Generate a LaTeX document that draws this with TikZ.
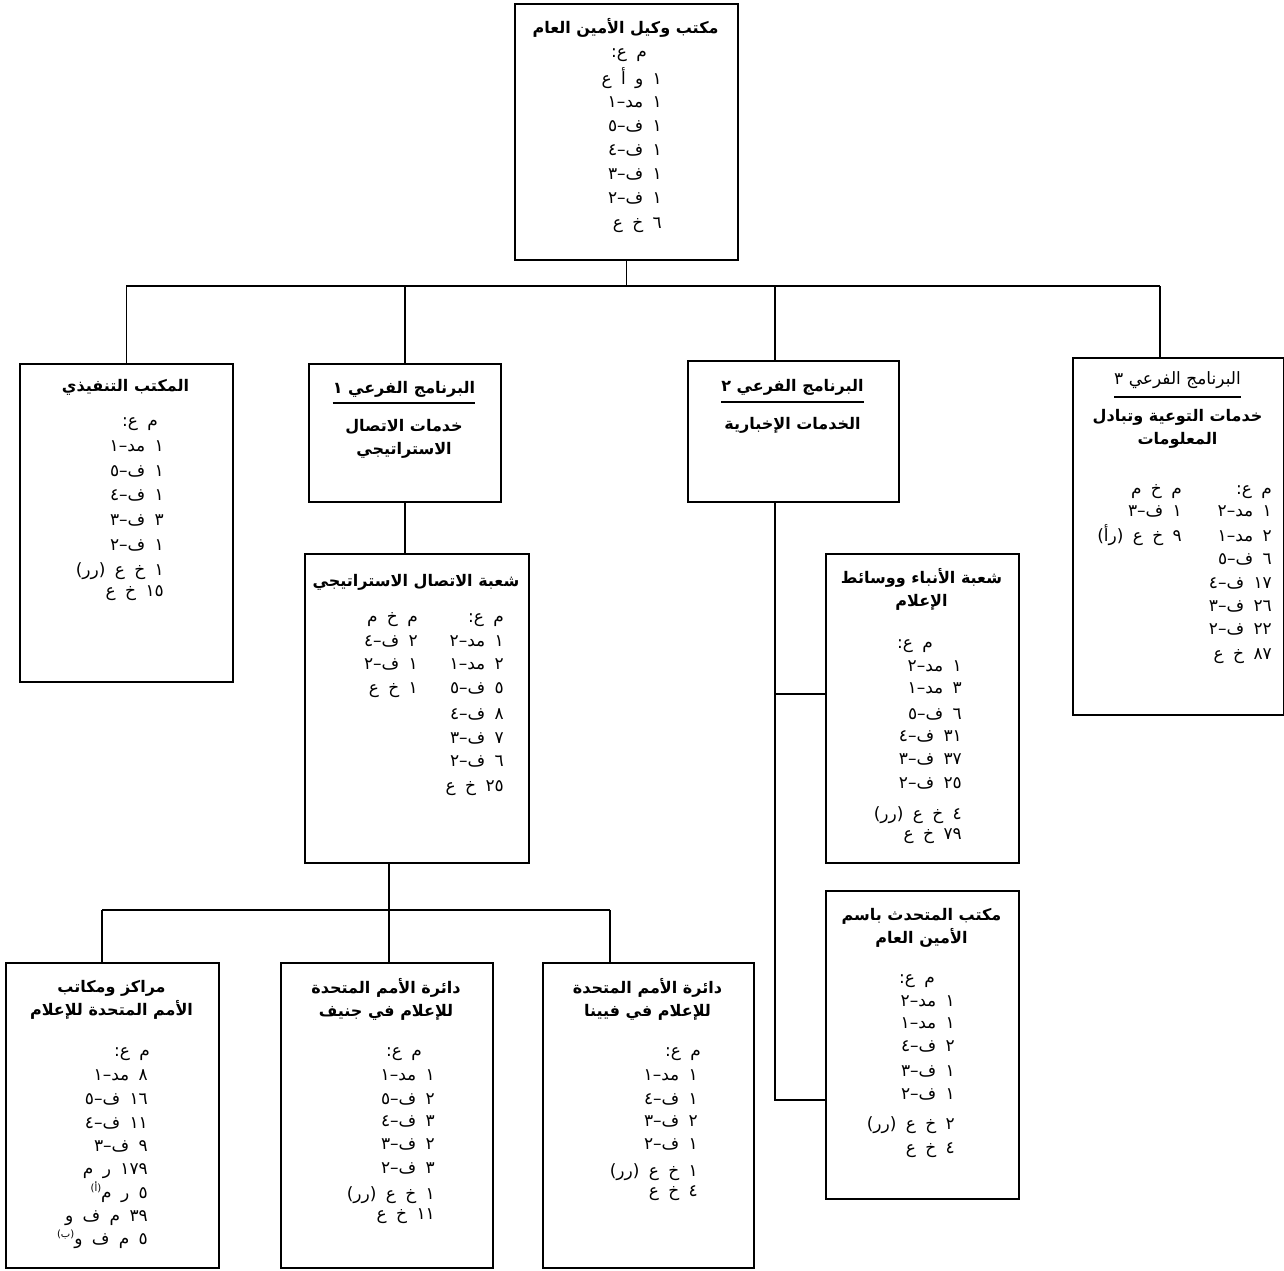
\documentclass[tikz,border=0pt]{standalone}
\usepackage{fontspec}
\newfontfamily\arabicfont[Script=Arabic]{DejaVu Sans}
\TeXXeTstate=1
\newcommand\rl[1]{\beginR #1\endR}
\newcommand\rlb[1]{\spaceskip=0.55em\relax\beginR #1\endR}
\newcommand\supr[1]{\raisebox{7pt}{\fontsize{10}{10}\selectfont #1}}
\newcommand\mkbox[5]{\node[bx, minimum width={(#4-#2)*1pt}, minimum height={(#5-#3)*1pt}] (#1) at (#2,#3) {};}
\newcommand\rlines[3]{\foreach \yy/\lnt [count=\i] in {#3} {\node[bd, anchor=base east] (#1-\i) at (#2,\yy+6) {\rlb{\lnt}};}}
\begin{document}
\begin{tikzpicture}[x=1pt,y=-1pt,
  ln/.style={line width=1.8pt},
  bx/.style={draw, line width=1.8pt, rectangle, inner sep=0pt, anchor=north west},
  ttl/.style={font=\arabicfont\bfseries\fontsize{16}{23}\selectfont, align=center, inner sep=0pt},
  ttlr/.style={font=\arabicfont\fontsize{17}{23}\selectfont, align=center, inner sep=0pt},
  bd/.style={font=\arabicfont\fontsize{17}{20}\selectfont, inner sep=0pt},
  hd/.style={bd, anchor=base}]
\useasboundingbox[fill=white] (0,0) rectangle (1284,1270);

% ---------- boxes ----------
\mkbox{b0}{514}{3}{737}{259}
\mkbox{b1}{19}{363}{232}{681}
\mkbox{b2}{308}{363}{500}{501}
\mkbox{b3}{687}{360}{898}{501}
\mkbox{b4}{1072}{357}{1283}{714}
\mkbox{b5}{304}{553}{528}{862}
\mkbox{b6}{825}{553}{1018}{862}
\mkbox{b7}{825}{890}{1018}{1198}
\mkbox{b8}{5}{962}{218}{1267}
\mkbox{b9}{280}{962}{492}{1267}
\mkbox{b10}{542}{962}{753}{1267}

% ---------- top box ----------
\node[ttl] (t0) at (625.5,28) {\rl{مكتب وكيل الأمين العام}};
\node[hd] (h0) at (629,57) {\rlb{م ع:}};
\rlines{l0}{662}{78/١ و أ ع, 101/١ مد–١, 125/١ ف–٥, 149/١ ف–٤, 173/١ ف–٣, 197/١ ف–٢, 222/٦ خ ع}

% ---------- executive office ----------
\node[ttl] (t1) at (125.5,387) {\rl{المكتب التنفيذي}};
\node[hd] (h1) at (140,426) {\rlb{م ع:}};
\rlines{l1}{164}{445/١ مد–١, 470/١ ف–٥, 494/١ ف–٤, 519/٣ ف–٣, 544/١ ف–٢, 569/١ خ ع (رر), 590/١٥ خ ع}

% ---------- subprogramme 1 ----------
\node[ttl] (t2) at (404,389) {\rl{البرنامج الفرعي ١}};
\draw[ln] (t2.west |- 0,403) -- (t2.east |- 0,403);
\node[ttl] (s2) at (404,438.5) {\rl{خدمات الاتصال}\\\rl{الاستراتيجي}};

% ---------- subprogramme 2 ----------
\node[ttl] (t3) at (792.5,387) {\rl{البرنامج الفرعي ٢}};
\draw[ln] (t3.west |- 0,402) -- (t3.east |- 0,402);
\node[ttl] (s3) at (792.5,425) {\rl{الخدمات الإخبارية}};

% ---------- subprogramme 3 ----------
\node[ttlr] (t4) at (1177.5,380) {\rl{البرنامج الفرعي ٣}};
\draw[ln] (t4.west |- 0,397) -- (t4.east |- 0,397);
\node[ttl] (s4) at (1177.5,429) {\rl{خدمات التوعية وتبادل}\\\rl{المعلومات}};
\rlines{r4}{1272}{488/م ع:, 510/١ مد–٢, 535/٢ مد–١, 558/٦ ف–٥, 582/١٧ ف–٤, 605/٢٦ ف–٣, 628/٢٢ ف–٢, 653/٨٧ خ ع}
\rlines{q4}{1182}{488/م خ م, 510/١ ف–٣, 535/٩ خ ع (رأ)}

% ---------- strategic communications division ----------
\node[ttl] (t5) at (416,582) {\rl{شعبة الاتصال الاستراتيجي}};
\rlines{r5}{504}{616/م ع:, 640/١ مد–٢, 663/٢ مد–١, 687/٥ ف–٥, 713/٨ ف–٤, 737/٧ ف–٣, 760/٦ ف–٢, 785/٢٥ خ ع}
\rlines{q5}{418}{616/م خ م, 640/٢ ف–٤, 663/١ ف–٢, 687/١ خ ع}

% ---------- news and media division ----------
\node[ttl] (t6) at (921.5,589) {\rl{شعبة الأنباء ووسائط}\\\rl{الإعلام}};
\node[hd] (h6) at (915,648) {\rlb{م ع:}};
\rlines{l6}{962}{665/١ مد–٢, 687/٣ مد–١, 713/٦ ف–٥, 735/٣١ ف–٤, 758/٣٧ ف–٣, 782/٢٥ ف–٢, 813/٤ خ ع (رر), 833/٧٩ خ ع}

% ---------- spokesperson ----------
\node[ttl] (t7) at (921.5,927.5) {\rl{مكتب المتحدث باسم}\\\rl{الأمين العام}};
\node[hd] (h7) at (917,983) {\rlb{م ع:}};
\rlines{l7}{955}{1000/١ مد–٢, 1022/١ مد–١, 1045/٢ ف–٤, 1070/١ ف–٣, 1093/١ ف–٢, 1123/٢ خ ع (رر), 1147/٤ خ ع}

% ---------- information centres ----------
\node[ttl] (t8) at (111.5,1000) {\rl{مراكز ومكاتب}\\\rl{الأمم المتحدة للإعلام}};
\node[hd] (h8) at (132,1056) {\rlb{م ع:}};
\rlines{l8}{148}{1074/٨ مد–١, 1098/١٦ ف–٥, 1122/١١ ف–٤, 1145/٩ ف–٣, 1168/١٧٩ ر م, 1192/٥ ر م\supr{(أ)}, 1215/٣٩ م ف و, 1238/٥ م ف و\supr{(ب)}}

% ---------- Geneva ----------
\node[ttl] (t9) at (386,999) {\rl{دائرة الأمم المتحدة}\\\rl{للإعلام في جنيف}};
\node[hd] (h9) at (404,1056) {\rlb{م ع:}};
\rlines{l9}{435}{1074/١ مد–١, 1098/٢ ف–٥, 1120/٣ ف–٤, 1143/٢ ف–٣, 1167/٣ ف–٢, 1193/١ خ ع (رر), 1213/١١ خ ع}

% ---------- Vienna ----------
\node[ttl] (t10) at (647.5,999) {\rl{دائرة الأمم المتحدة}\\\rl{للإعلام في فيينا}};
\node[hd] (h10) at (683,1056) {\rlb{م ع:}};
\rlines{l10}{698}{1074/١ مد–١, 1098/١ ف–٤, 1120/٢ ف–٣, 1143/١ ف–٢, 1170/١ خ ع (رر), 1190/٤ خ ع}

% ---------- connectors ----------
\coordinate (T1) at (b1.north |- 0,286);
\coordinate (T3) at (775,286);
\coordinate (T4) at (1160,286);
\draw[ln] (b0.south) -- (b0.south |- T1);
\draw[ln] (T1) -- (T4);
\draw[ln] (T1) -- (b1.north);
\draw[ln] (b2.north |- T1) -- (b2.north);
\draw[ln] (T3) -- (T3 |- b3.north);
\draw[ln] (T4) -- (T4 |- b4.north);
\draw[ln] (b2.south) -- (b2.south |- b5.north);

\coordinate (S) at (389,910);
\coordinate (SL) at (102,910);
\coordinate (SR) at (610,910);
\draw[ln] (S |- b5.south) -- (S);
\draw[ln] (SL) -- (SR);
\draw[ln] (SL) -- (SL |- b8.north);
\draw[ln] (S) -- (S |- b9.north);
\draw[ln] (SR) -- (SR |- b10.north);

\coordinate (V1) at (775,694);
\coordinate (V2) at (775,1100);
\draw[ln] (T3 |- b3.south) -- (V2) -- (V2 -| b7.west);
\draw[ln] (V1) -- (V1 -| b6.west);
\end{tikzpicture}
\end{document}
